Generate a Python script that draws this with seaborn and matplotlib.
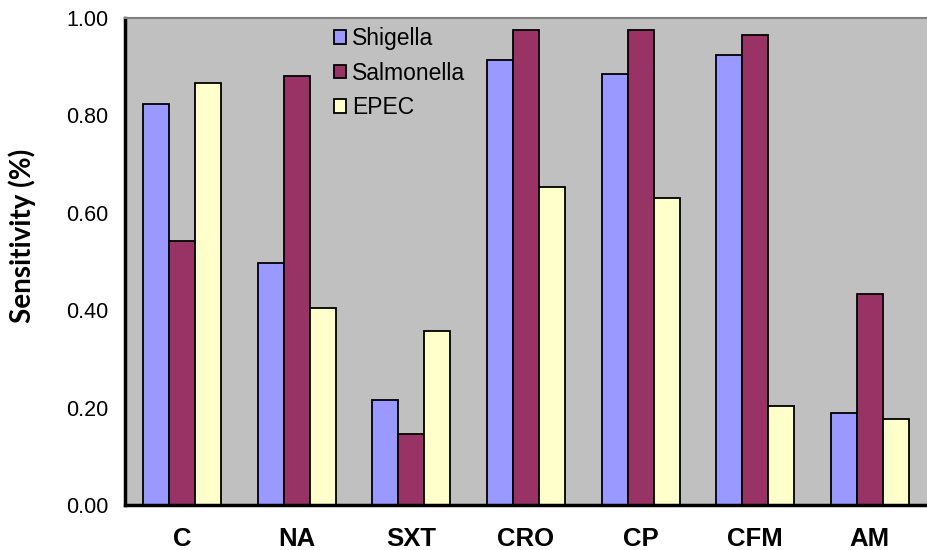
import matplotlib
matplotlib.use("Agg")
import matplotlib.pyplot as plt
import seaborn as sns
import pandas as pd
import numpy as np

categories = ["C", "NA", "SXT", "CRO", "CP", "CFM", "AM"]
shigella = [0.823, 0.496, 0.215, 0.914, 0.886, 0.925, 0.188]
salmonella = [0.543, 0.881, 0.145, 0.976, 0.976, 0.965, 0.433]
epec = [0.866, 0.405, 0.358, 0.653, 0.630, 0.204, 0.176]
series_names = ["Shigella", "Salmonella", "EPEC"]
colors = ["#9999ff", "#993366", "#ffffcc"]
yticks = [0.0, 0.2, 0.4, 0.6, 0.8, 1.0]

df = pd.DataFrame({
    "Drug": categories * 3,
    "Organism": [series_names[0]] * 7 + [series_names[1]] * 7 + [series_names[2]] * 7,
    "Sensitivity": shigella + salmonella + epec,
})

sns.set_theme(style="white")
plt.rcParams["font.family"] = ["Liberation Sans", "DejaVu Sans"]
plt.rcParams["text.color"] = "black"
plt.rcParams["axes.labelcolor"] = "black"
plt.rcParams["xtick.color"] = "black"
plt.rcParams["ytick.color"] = "black"

fig = plt.figure(figsize=(9.27, 5.5), dpi=100)
ax = fig.add_axes([125 / 927, 45 / 550, 802 / 927, 487 / 550])
ax.set_facecolor("#c0c0c0")

sns.barplot(data=df, x="Drug", y="Sensitivity", hue="Organism",
            palette=colors, order=categories, hue_order=series_names,
            width=0.68, gap=0, edgecolor="black", linewidth=1.3,
            saturation=1, ax=ax)

ax.set_xlim(-0.5, len(categories) - 0.5)
ax.set_ylim(0, 1.0)
ax.set_yticks(yticks)
ax.set_yticklabels([f"{v:.2f}" for v in yticks], fontsize=15.5, color="black")
ax.set_xticks(range(len(categories)))
ax.set_xticklabels(categories, fontsize=18.5, fontweight="bold", color="black")
ax.set_xticks(np.arange(-0.5, len(categories), 1.0), minor=True)
ax.tick_params(axis="x", which="major", length=0, pad=16)
ax.tick_params(axis="x", which="minor", length=7, width=2.5, direction="out", color="black")
ax.tick_params(axis="y", which="major", length=6, width=2, direction="out", color="black", pad=6)
ax.set_xlabel("")
ax.set_ylabel("Sensitivity (%)", fontsize=20, fontweight="bold", color="black",
              family=["Lato", "DejaVu Sans"])
ax.yaxis.set_label_coords(-0.111, 0.552)

for s in ["left", "bottom"]:
    ax.spines[s].set_color("black")
    ax.spines[s].set_linewidth(2.5)
ax.spines["top"].set_color("#808080")
ax.spines["top"].set_linewidth(1.5)
ax.spines["right"].set_visible(False)

leg = ax.legend(loc="upper left", bbox_to_anchor=(0.249, 1.0), frameon=False,
                fontsize=16.5, handlelength=0.55, handleheight=0.55,
                handletextpad=0.25, labelspacing=0.5, borderaxespad=0.0,
                labelcolor="black")
for h in leg.legend_handles:
    h.set_edgecolor("black")
    h.set_linewidth(1.3)

fig.savefig("out.png", dpi=100)
